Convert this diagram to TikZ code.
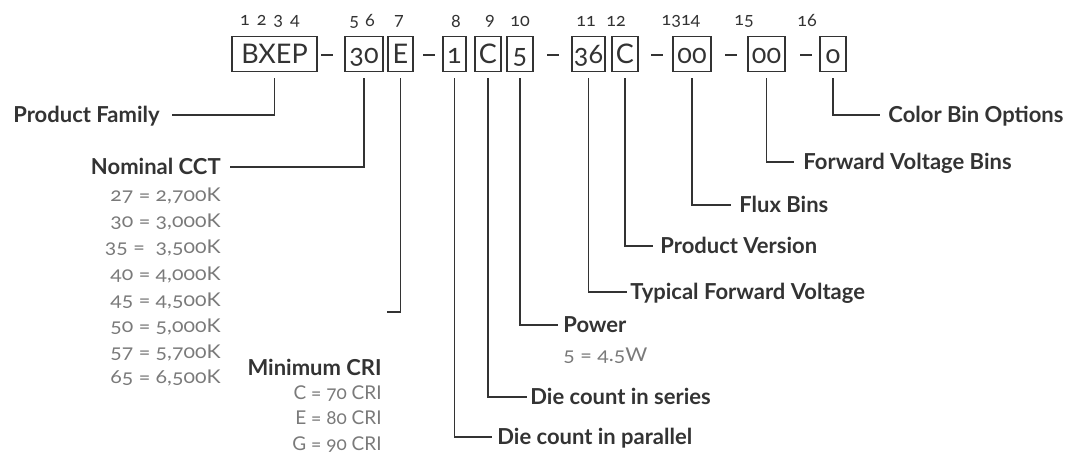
\documentclass[tikz,border=0pt]{standalone}
\usepackage{fontspec}
\setmainfont{Lato}[Numbers=OldStyle]
\newfontfamily\widefont{Lato}[Numbers=OldStyle, FakeStretch=1.12]
\usetikzlibrary{calc}
\definecolor{inkgray}{HTML}{333333}
\definecolor{valgray}{HTML}{7A7A7A}
\tikzset{
  partbox/.style={draw=inkgray, line width=0.7pt, minimum height=17.5pt, inner sep=0pt,
    text height=9.4pt, text depth=0pt, text=inkgray, font=\fontsize{13.5}{13.5}\selectfont},
  posnum/.style={text=inkgray, font=\fontsize{9}{9}\selectfont},
  joiner/.style={inner sep=0pt, text=inkgray},
  field/.style={inner sep=0pt, text height=7.9pt, text depth=0pt, text=inkgray,
    font=\bfseries\fontsize{11}{11}\selectfont},
  value/.style={inner sep=0pt, text height=6.8pt, text depth=0pt, text=valgray,
    font=\widefont\fontsize{9.5}{10}\selectfont},
  crivalue/.style={inner sep=0pt, text height=6.8pt, text depth=0pt, text=valgray,
    font=\fontsize{9.5}{10}\selectfont},
  lead/.style={draw=inkgray, line width=0.65pt}
}
\newcommand{\joinbar}{\rule{6pt}{1.4pt}}

\begin{document}
\begin{tikzpicture}[x=0.5pt, y=-0.5pt]
  \useasboundingbox (0,0) rectangle (1068,453);
  % part number boxes
  \node[partbox, minimum width=42.5pt] (family) at (274.5,54) {BXEP};
  \node[joiner] (j1) at (327,55) {\joinbar};
  \node[partbox, minimum width=19pt] (cct) at (364,54) {30};
  \node[partbox, minimum width=12.5pt] (cri) at (400.5,54) {E};
  \node[joiner] (j2) at (429,55) {\joinbar};
  \node[partbox, minimum width=11.5pt] (par) at (454.5,54) {1};
  \node[partbox, minimum width=13pt] (ser) at (488,54) {C};
  \node[partbox, minimum width=13pt] (power) at (520,54) {5};
  \node[joiner] (j3) at (553,55) {\joinbar};
  \node[partbox, minimum width=16.5pt] (volt) at (588.5,54) {36};
  \node[partbox, minimum width=13pt] (version) at (625,54) {C};
  \node[joiner] (j4) at (657,55) {\joinbar};
  \node[partbox, minimum width=19pt] (flux) at (692,54) {00};
  \node[joiner] (j5) at (731,55) {\joinbar};
  \node[partbox, minimum width=18.5pt] (vbin) at (766.5,54) {00};
  \node[joiner] (j6) at (806,55) {\joinbar};
  \node[partbox, minimum width=13pt] (color) at (833,54) {o};
  % digit positions
  \node[posnum] (p1) at (270,21) {1\hspace{3.5pt}2\hspace{3.5pt}3\hspace{3.5pt}4};
  \node[posnum] (p5) at (362,21) {5\hspace{3pt}6};
  \node[posnum] (p7) at (399,21) {7};
  \node[posnum] (p8) at (456,21) {8};
  \node[posnum] (p9) at (490,21) {9};
  \node[posnum] (p10) at (520,21) {10};
  \node[posnum] (p11) at (586,21) {11};
  \node[posnum] (p12) at (616,21) {12};
  \node[posnum] (p13) at (681,21) {1314};
  \node[posnum] (p15) at (744,21) {15};
  \node[posnum] (p16) at (807,21) {16};
  % left side fields
  \node[field, anchor=east] (familylbl) at (160,115) {Product Family};
  \draw[lead] ([yshift=-3pt]family.south) |- ([xshift=6pt]familylbl.east);
  \node[field, anchor=east] (cctlbl) at (221,167) {Nominal CCT};
  \draw[lead] ([yshift=-3pt]cct.south) |- ([xshift=4.5pt]cctlbl.east);
  \node[value, anchor=east] (cct27) at (221,195) {27 = 2,700K};
  \node[value, anchor=east] (cct30) at (221,221) {30 = 3,000K};
  \node[value, anchor=east] (cct35) at (221,247) {35 =~~3,500K};
  \node[value, anchor=east] (cct40) at (221,274) {40 = 4,000K};
  \node[value, anchor=east] (cct45) at (221,300) {45 = 4,500K};
  \node[value, anchor=east] (cct50) at (221,326) {50 = 5,000K};
  \node[value, anchor=east] (cct57) at (221,352) {57 = 5,700K};
  \node[value, anchor=east] (cct65) at (221,377) {65 = 6,500K};
  % minimum CRI
  \coordinate (crilead) at (387,312);
  \draw[lead] ([yshift=-3pt]cri.south) |- (crilead);
  \node[field, anchor=east] (crilbl) at (382,368) {Minimum CRI};
  \node[crivalue, anchor=east] (criC) at (382,393) {C = 70 CRI};
  \node[crivalue, anchor=east] (criE) at (382,418) {E = 80 CRI};
  \node[crivalue, anchor=east] (criG) at (382,444) {G = 90 CRI};
  % right side fields
  \node[field, anchor=west] (parlbl) at (497,437) {Die count in parallel};
  \draw[lead] ([yshift=-3pt]par.south) |- ([xshift=-2.5pt]parlbl.west);
  \node[field, anchor=west] (serlbl) at (530,397) {Die count in series};
  \draw[lead] ([yshift=-3pt]ser.south) |- ([xshift=-1.5pt]serlbl.west);
  \node[field, anchor=west] (powerlbl) at (563,325) {Power};
  \draw[lead] ([yshift=-3pt]power.south) |- ([xshift=-2.5pt]powerlbl.west);
  \node[value, anchor=west] (power5) at (563,355) {5 = 4.5W};
  \node[field, anchor=west] (voltlbl) at (630,292) {Typical Forward Voltage};
  \draw[lead] ([yshift=-3pt]volt.south) |- ([xshift=-1.5pt]voltlbl.west);
  \node[field, anchor=west] (versionlbl) at (660,246) {Product Version};
  \draw[lead] ([yshift=-3pt]version.south) |- ([xshift=-3.5pt]versionlbl.west);
  \node[field, anchor=west] (fluxlbl) at (739,205) {Flux Bins};
  \draw[lead] ([yshift=-3pt]flux.south) |- ([xshift=-4pt]fluxlbl.west);
  \node[field, anchor=west] (vbinlbl) at (803,162) {Forward Voltage Bins};
  \draw[lead] ([yshift=-3pt]vbin.south) |- ([xshift=-4.5pt]vbinlbl.west);
  \node[field, anchor=west] (colorlbl) at (888,115) {Color Bin Options};
  \draw[lead] ([yshift=-3pt]color.south) |- ([xshift=-4pt]colorlbl.west);
\end{tikzpicture}
\end{document}
